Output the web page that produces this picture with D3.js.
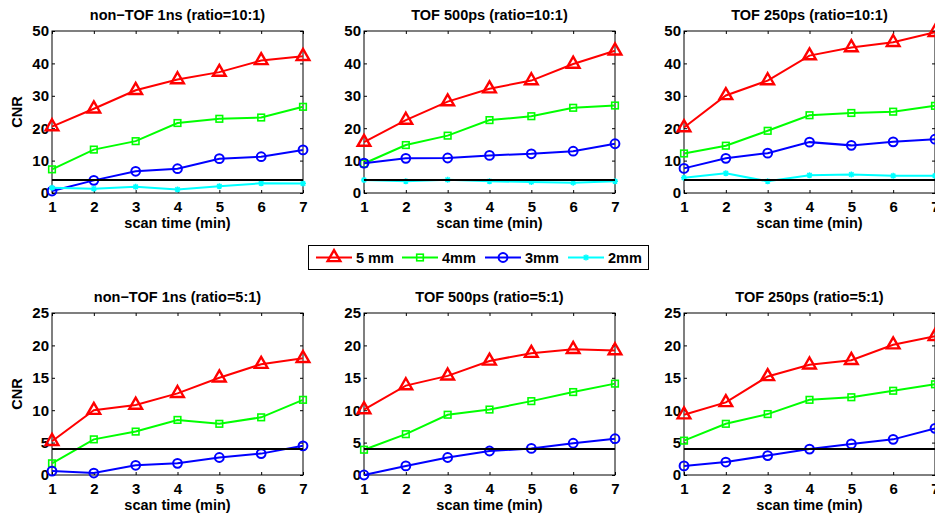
<!DOCTYPE html>
<html>
<head>
<meta charset="utf-8">
<script src="https://cdn.jsdelivr.net/npm/d3@7"></script>
<style>
  body { margin: 0; background: #fff; }
  svg { font-family: "Liberation Sans", Arial, sans-serif; font-weight: bold; }
</style>
</head>
<body>
<div id="container"></div>
<script>
/* DATA */
const scanTime = [1, 2, 3, 4, 5, 6, 7];
const panelTitles = [
  "non\u2212TOF 1ns (ratio=10:1)", "TOF 500ps (ratio=10:1)", "TOF 250ps (ratio=10:1)",
  "non\u2212TOF 1ns (ratio=5:1)", "TOF 500ps (ratio=5:1)", "TOF 250ps (ratio=5:1)"
];
const yMaxByRow = [50, 25];
const yTicksByRow = [[0, 10, 20, 30, 40, 50], [0, 5, 10, 15, 20, 25]];
const threshold = 4;
const seriesNames = ["5 mm", "4mm", "3mm", "2mm"];

// one array per panel, panels in reading order
const cnr5mm = [
  [20.5, 26.0, 31.7, 35.0, 37.3, 40.9, 42.2],
  [15.7, 22.5, 28.2, 32.2, 34.7, 39.8, 43.9],
  [20.2, 30.1, 34.7, 42.4, 44.9, 46.5, 49.6],
  [5.2, 10.0, 10.8, 12.6, 15.0, 17.1, 18.0],
  [10.1, 13.8, 15.3, 17.6, 18.8, 19.4, 19.2],
  [9.3, 11.2, 15.2, 17.0, 17.7, 20.1, 21.4]
];
const cnr4mm = [
  [7.3, 13.4, 16.0, 21.6, 22.9, 23.3, 26.6],
  [9.1, 14.8, 17.7, 22.5, 23.7, 26.3, 27.0],
  [12.2, 14.6, 19.2, 24.0, 24.7, 25.1, 26.9],
  [1.8, 5.5, 6.7, 8.5, 7.9, 8.9, 11.6],
  [3.9, 6.3, 9.3, 10.1, 11.4, 12.8, 14.1],
  [5.3, 7.9, 9.4, 11.6, 12.0, 13.0, 14.0]
];
const cnr3mm = [
  [0.6, 3.9, 6.7, 7.5, 10.6, 11.2, 13.3],
  [9.2, 10.7, 10.8, 11.6, 12.1, 12.9, 15.2],
  [7.6, 10.7, 12.3, 15.7, 14.7, 15.8, 16.6],
  [0.6, 0.3, 1.5, 1.8, 2.7, 3.3, 4.5],
  [0.0, 1.4, 2.7, 3.7, 4.1, 4.9, 5.6],
  [1.4, 2.0, 3.0, 4.0, 4.8, 5.5, 7.2]
];
const cnr2mm = [
  [1.6, 1.3, 1.9, 1.1, 2.1, 3.0, 2.9],
  [4.0, 3.6, 4.1, 3.6, 3.4, 3.2, 3.6],
  [4.7, 6.1, 3.6, 5.5, 5.7, 5.3, 5.3],
  null, null, null
];

/* LAYOUT */
const colX = [[52, 303], [364, 615], [684, 935]];
const rowY = [[31, 193], [313, 475]];
const colors = ["#ff0000", "#00ff00", "#0000ff", "#00ffff"];
const fontSize = 14.5;

const svg = d3.select("#container").append("svg")
  .attr("width", 935).attr("height", 516);

function marker(g, type, color) {
  if (type === 0) {
    g.append("path").attr("d", d3.symbol(d3.symbolTriangle, 70)())
      .attr("fill", "none").attr("stroke", color).attr("stroke-width", 2.4);
  } else if (type === 1) {
    g.append("rect").attr("x", -3.3).attr("y", -3.3).attr("width", 6.6).attr("height", 6.6)
      .attr("fill", "none").attr("stroke", color).attr("stroke-width", 1.6);
  } else if (type === 2) {
    g.append("circle").attr("r", 4.4)
      .attr("fill", "none").attr("stroke", color).attr("stroke-width", 2);
  } else {
    g.append("path").attr("d", "M-3,0H3M0,-3V3M-2.2,-2.2L2.2,2.2M-2.2,2.2L2.2,-2.2")
      .attr("fill", "none").attr("stroke", color).attr("stroke-width", 1.5);
  }
}

const allSeries = [cnr5mm, cnr4mm, cnr3mm, cnr2mm];

panelTitles.forEach((title, p) => {
  const row = Math.floor(p / 3), col = p % 3;
  const [x0, x1] = colX[col], [y0, y1] = rowY[row];

  const xScale = d3.scaleLinear().domain([1, 7]).range([x0, x1]);
  const yScale = d3.scaleLinear().domain([0, yMaxByRow[row]]).range([y1, y0]);

  const g = svg.append("g");

  // box
  g.append("rect").attr("x", x0).attr("y", y0).attr("width", x1 - x0).attr("height", y1 - y0)
    .attr("fill", "#fff").attr("stroke", "#000").attr("stroke-width", 1);

  // axes, ticks inside like matlab
  const styleAxis = sel => {
    sel.select(".domain").remove();
    sel.selectAll(".tick line").attr("stroke", "#000");
    sel.selectAll("text").attr("fill", "#000").style("font-size", "15px")
      .style("font-weight", "bold").style("font-family", "Liberation Sans, Arial, sans-serif");
  };
  g.append("g").attr("transform", `translate(0,${y1})`)
    .call(d3.axisBottom(xScale).tickValues(scanTime).tickFormat(d3.format("d")).tickSize(-3).tickPadding(8))
    .call(styleAxis);
  g.append("g").attr("transform", `translate(0,${y0})`)
    .call(d3.axisTop(xScale).tickValues(scanTime).tickFormat("").tickSize(-3))
    .call(styleAxis);
  g.append("g").attr("transform", `translate(${x0},0)`)
    .call(d3.axisLeft(yScale).tickValues(yTicksByRow[row]).tickFormat(d3.format("d")).tickSize(-3).tickPadding(3))
    .call(styleAxis);
  g.append("g").attr("transform", `translate(${x1},0)`)
    .call(d3.axisRight(yScale).tickValues(yTicksByRow[row]).tickFormat("").tickSize(-3))
    .call(styleAxis);

  // series
  const line = d3.line().x((d, i) => xScale(scanTime[i])).y(d => yScale(d));
  allSeries.forEach((series, s) => {
    const vals = series[p];
    if (!vals) return;
    g.append("path").datum(vals).attr("d", line)
      .attr("fill", "none").attr("stroke", colors[s]).attr("stroke-width", 2);
    vals.forEach((v, i) => {
      const m = g.append("g").attr("transform", `translate(${xScale(scanTime[i])},${yScale(v)})`);
      marker(m, s, colors[s]);
    });
  });

  // threshold
  g.append("line").attr("x1", x0).attr("x2", x1)
    .attr("y1", yScale(threshold)).attr("y2", yScale(threshold))
    .attr("stroke", "#000").attr("stroke-width", 2);

  // titles and labels
  g.append("text").attr("x", (x0 + x1) / 2).attr("y", y0 - 11)
    .attr("text-anchor", "middle").style("font-size", fontSize + "px").text(title);
  g.append("text").attr("x", (x0 + x1) / 2).attr("y", y1 + 35)
    .attr("text-anchor", "middle").style("font-size", fontSize + "px").text("scan time (min)");
  if (col === 0) {
    g.append("text").attr("transform", `translate(22,${(y0 + y1) / 2}) rotate(-90)`)
      .attr("text-anchor", "middle").style("font-size", fontSize + "px").text("CNR");
  }
});

/* LEGEND */
const legend = svg.append("g");
legend.append("rect").attr("x", 308.5).attr("y", 245.5).attr("width", 340).attr("height", 24)
  .attr("fill", "#fff").attr("stroke", "#000").attr("stroke-width", 1);
const legendX = [316, 402, 485, 568];
seriesNames.forEach((name, s) => {
  const lx = legendX[s];
  legend.append("line").attr("x1", lx).attr("x2", lx + 36).attr("y1", 257.5).attr("y2", 257.5)
    .attr("stroke", colors[s]).attr("stroke-width", 2);
  const m = legend.append("g").attr("transform", `translate(${lx + 18},257.5)`);
  marker(m, s, colors[s]);
  legend.append("text").attr("x", lx + 40).attr("y", 262.5)
    .style("font-size", fontSize + "px").text(name);
});
</script>
</body>
</html>
